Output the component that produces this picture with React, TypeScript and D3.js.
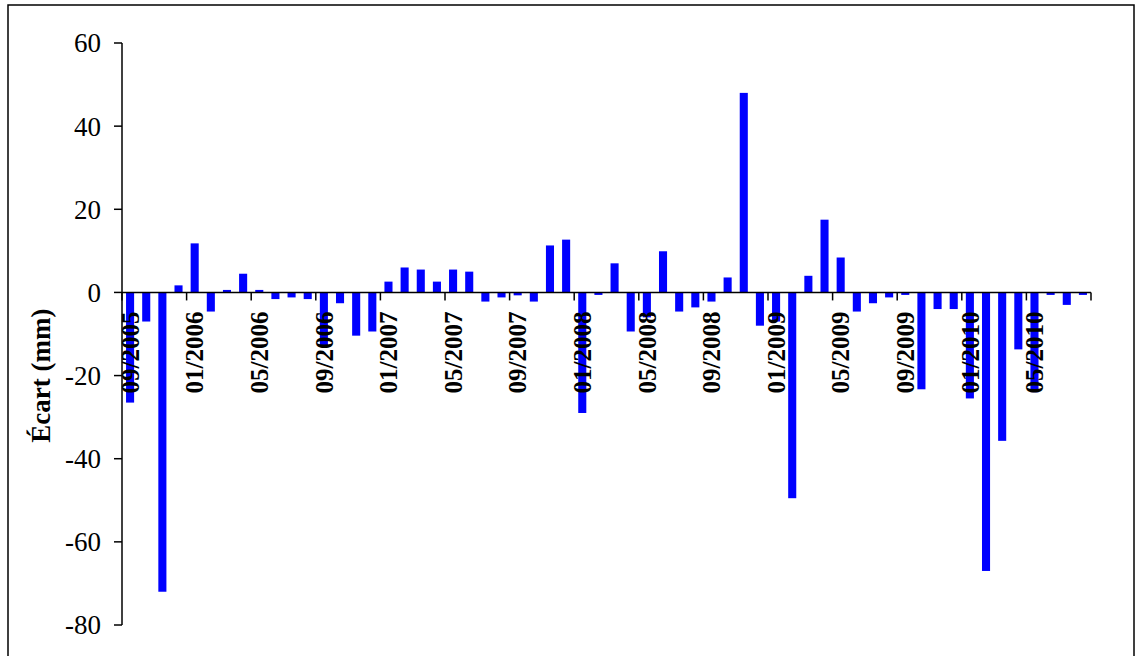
import * as d3 from 'd3';

const MONTHS = d3.range(60).map(i => {
  const d = new Date(2005, 8 + i, 1);
  return `${String(d.getMonth() + 1).padStart(2, '0')}/${d.getFullYear()}`;
});
const VALUES = [
  -26.5, -7, -72, 1.7, 11.8, -4.6, 0.6, 4.5, 0.6, -1.6, -1.2, -1.6,
  -13, -2.6, -10.4, -9.4, 2.6, 6, 5.5, 2.6, 5.5, 5, -2.2, -1.2,
  -0.7, -2.2, 11.3, 12.7, -29, -0.6, 7, -9.4, -6, 9.9, -4.6, -3.6,
  -2.2, 3.6, 48, -8, -7, -49.5, 4, 17.5, 8.4, -4.6, -2.6, -1.2,
  -0.6, -23.3, -4, -4, -25.5, -67, -35.7, -13.7, -24, -0.6, -3, -0.6,
];
const Y_TICKS = [60, 40, 20, 0, -20, -40, -60, -80];

const W = 1141, H = 656;
const X0 = 122, X1 = 1091;
const font = '"Liberation Serif", "DejaVu Serif", serif';

export default function App() {
  const x = d3.scaleBand<number>().domain(d3.range(60)).range([X0, X1]).paddingInner(0.5).paddingOuter(0.25);
  const y = d3.scaleLinear().domain([-80, 60]).range([625, 43]);
  const step = x.step();
  const tickIdx = d3.range(0, 61, 4);
  return (
    <svg width={W} height={H} style={{ position: 'absolute', left: 0, top: 0 }}>
      <rect x={8} y={5} width={1126} height={700} fill="white" stroke="black" strokeWidth={1.5} />
      {VALUES.map((v, i) => (
        <rect key={i} x={x(i)} width={x.bandwidth()} y={y(Math.max(0, v))}
          height={Math.abs(y(v) - y(0))} fill="#0000ff" />
      ))}
      <line x1={X0} x2={X0} y1={y(60)} y2={y(-80)} stroke="black" strokeWidth={1.5} />
      {Y_TICKS.map(t => (
        <g key={t}>
          <line x1={X0 - 8} x2={X0} y1={y(t)} y2={y(t)} stroke="black" strokeWidth={1.5} />
          <text x={X0 - 21} y={y(t)} dy="0.35em" textAnchor="end" fontFamily={font} fontSize={27}>{t}</text>
        </g>
      ))}
      <line x1={X0} x2={X1} y1={y(0)} y2={y(0)} stroke="black" strokeWidth={1.5} />
      {tickIdx.map(i => (
        <line key={i} x1={X0 + i * step} x2={X0 + i * step} y1={y(0)} y2={y(0) + 8} stroke="black" strokeWidth={1.5} />
      ))}
      {tickIdx.filter(i => i < 60).map(i => (
        <text key={i} transform={`translate(${x(i)! + x.bandwidth() / 2},${y(0) + 19}) rotate(-90)`}
          textAnchor="end" dy="0.35em" fontFamily={font} fontSize={25} fontWeight="bold">{MONTHS[i]}</text>
      ))}
      <text transform={`translate(41,${y(-20)}) rotate(-90)`} textAnchor="middle" dy="0.35em"
        fontFamily={font} fontSize={27} fontWeight="bold">Écart (mm)</text>
    </svg>
  );
}
